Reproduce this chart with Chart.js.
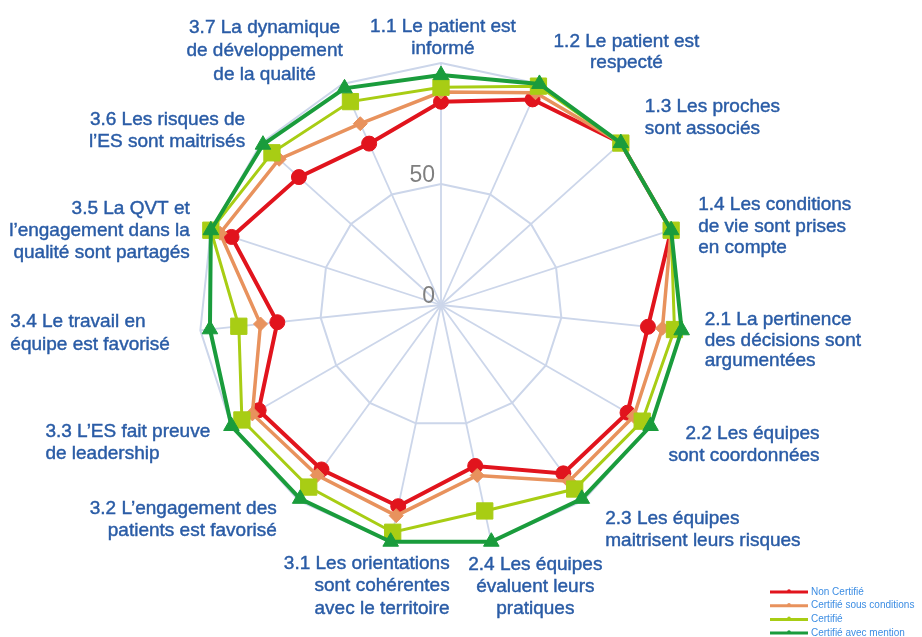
<!DOCTYPE html>
<html>
<head>
<meta charset="utf-8">
<script src="https://cdn.jsdelivr.net/npm/chart.js@4/dist/chart.umd.min.js"></script>
<style>
  html, body { margin: 0; padding: 0; background: #ffffff; }
  #wrap { width: 922px; height: 637px; position: relative; }
</style>
</head>
<body>
<div id="wrap"><canvas id="c" width="922" height="637"></canvas></div>
<script>
// ---- data ----
const categories = [
  ['1.1 Le patient est', 'informé'],
  ['1.2 Le patient est', 'respecté'],
  ['1.3 Les proches', 'sont associés'],
  ['1.4 Les conditions', 'de vie sont prises', 'en compte'],
  ['2.1 La pertinence', 'des décisions sont', 'argumentées'],
  ['2.2 Les équipes', 'sont coordonnées'],
  ['2.3 Les équipes', 'maitrisent leurs risques'],
  ['2.4 Les équipes', 'évaluent leurs', 'pratiques'],
  ['3.1 Les orientations', 'sont cohérentes', 'avec le territoire'],
  ['3.2 L’engagement des', 'patients est favorisé'],
  ['3.3 L’ES fait preuve', 'de leadership'],
  ['3.4 Le travail en', 'équipe est favorisé'],
  ['3.5 La QVT et', 'l’engagement dans la', 'qualité sont partagés'],
  ['3.6 Les risques de', 'l’ES sont maitrisés'],
  ['3.7 La dynamique', 'de développement', 'de la qualité']
];
const seriesNames = ['Non Certifié', 'Certifié sous conditions', 'Certifié', 'Certifié avec mention'];
const nonCertifie    = [84, 93, 100, 100, 86, 89, 86, 68, 85, 84, 87, 68, 91, 79, 73];
const sousConditions = [88, 96, 100, 100, 92, 92, 90, 72, 89, 87, 90, 75, 96, 90, 82];
const certifie       = [90, 99, 100, 100, 97, 96, 94, 87, 96, 93, 95, 84, 100, 94, 92];
const avecMention    = [95, 100, 100, 100, 100, 100, 99, 100, 100, 99, 100, 96, 100, 99, 98];
const tickLabels = [0, 50];

// ---- styling ----
const colors = ['#e1141d', '#e8925d', '#a8cd14', '#1a9c3c'];
const pointStyles = ['circle', 'rectRot', 'rect', 'triangle'];
const pointRadii = [7.5, 7, 11.5, 9];
const lineWidths = [4, 3.5, 3, 4];
const labelAlign = ['center','center','left','left','left','right','left','center','right','right','left','left','right','right','center'];
const labelOffsets = [[2,-31],[87,-37],[24,-31],[27,-20],[23,-5],[169,13],[22,23],[44,28],[59,27],[-22,13],[-186,11],[-190,-3],[-21,-16],[-16,-18],[-78,-51]];
const labelLineHeights = [21.5,21.5,21.5,21.5,20.5,21.5,22.5,22,22.5,22.5,22,22.5,22,22,23.5];
const FONT = '"Liberation Sans", Arial, sans-serif';

const seriesData = [nonCertifie, sousConditions, certifie, avecMention];

const labelPlugin = {
  id: 'customLabels',
  beforeDatasetsDraw(chart) {
    const s = chart.scales.r, ctx = chart.ctx;
    ctx.save();
    ctx.font = '23px ' + FONT;
    ctx.fillStyle = '#7f7f7f';
    ctx.textAlign = 'right';
    ctx.textBaseline = 'alphabetic';
    tickLabels.forEach(v => {
      const d = s.getDistanceFromCenterForValue(v);
      ctx.fillText(String(v), s.xCenter - 6, s.yCenter - d - 2);
    });
    ctx.restore();
  },
  afterDraw(chart) {
    const s = chart.scales.r, ctx = chart.ctx;
    ctx.save();
    ctx.font = '19px ' + FONT;
    ctx.fillStyle = '#2a5ca6';
    ctx.strokeStyle = '#2a5ca6';
    ctx.lineWidth = 0.45;
    ctx.textBaseline = 'alphabetic';
    categories.forEach((lines, i) => {
      const p = s.getPointPosition(i, s.drawingArea);
      const [dx, dy] = labelOffsets[i];
      ctx.textAlign = labelAlign[i];
      lines.forEach((t, k) => {
        const x = p.x + dx, y = p.y + dy + k * labelLineHeights[i];
        ctx.fillText(t, x, y);
        ctx.strokeText(t, x, y);
      });
    });
    // legend
    const lx = chart.width - 152, ly = chart.height - 45, step = 13.7;
    ctx.font = '10px ' + FONT;
    ctx.textAlign = 'left';
    ctx.textBaseline = 'middle';
    seriesNames.forEach((name, i) => {
      const y = ly + i * step;
      ctx.strokeStyle = colors[i];
      ctx.fillStyle = colors[i];
      ctx.lineWidth = 3;
      ctx.beginPath();
      ctx.moveTo(lx, y);
      ctx.lineTo(lx + 38, y);
      ctx.stroke();
      ctx.beginPath();
      ctx.arc(lx + 19, y - 1, 1.8, 0, Math.PI * 2);
      ctx.fill();
      ctx.fillStyle = '#3c8de3';
      ctx.fillText(name, lx + 41, y);
    });
    ctx.restore();
  }
};

new Chart(document.getElementById('c'), {
  type: 'radar',
  data: {
    labels: categories,
    datasets: seriesNames.map((name, i) => ({
      label: name,
      data: seriesData[i],
      borderColor: colors[i],
      backgroundColor: colors[i],
      pointBackgroundColor: colors[i],
      pointBorderColor: colors[i],
      pointBorderWidth: 1,
      pointStyle: pointStyles[i],
      pointRadius: pointRadii[i],
      borderWidth: lineWidths[i],
      fill: false,
      tension: 0,
      order: 3 - i
    }))
  },
  options: {
    responsive: false,
    animation: false,
    devicePixelRatio: 1,
    layout: { padding: { left: 199, right: 239, top: 63, bottom: 90 } },
    plugins: { legend: { display: false }, tooltip: { enabled: false } },
    scales: {
      r: {
        min: 0,
        max: 100,
        ticks: { stepSize: 50, display: false },
        grid: { color: '#ccd6ea', lineWidth: 2 },
        angleLines: { color: '#ccd6ea', lineWidth: 1.8 },
        pointLabels: { display: false }
      }
    }
  },
  plugins: [labelPlugin]
});
</script>
</body>
</html>
